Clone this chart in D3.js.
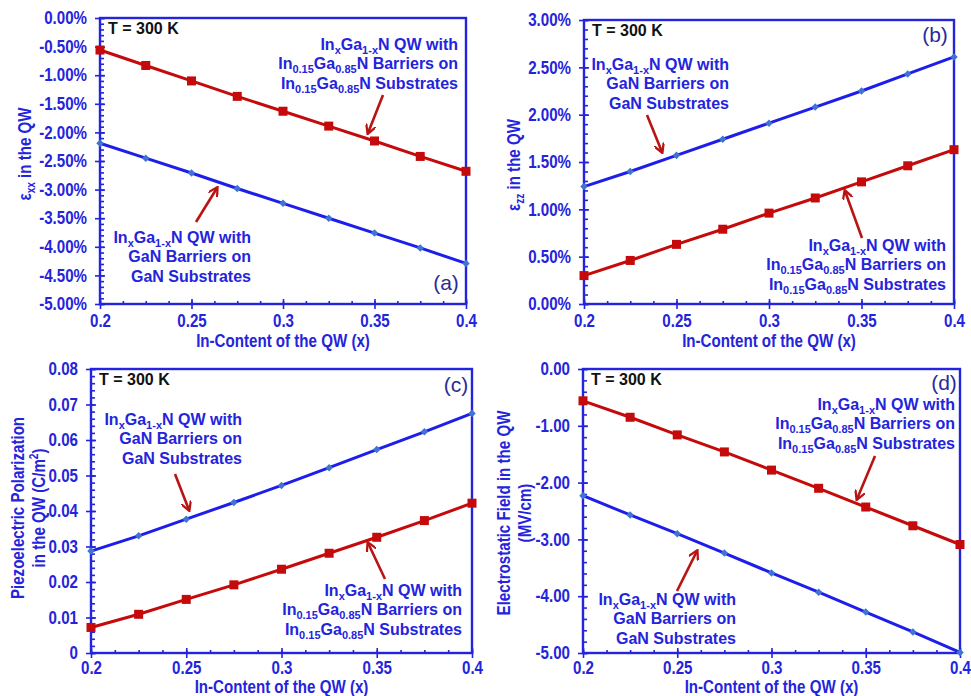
<!DOCTYPE html>
<html>
<head>
<meta charset="utf-8">
<script src="https://cdn.jsdelivr.net/npm/d3@7"></script>
<style>
  html, body { margin: 0; padding: 0; background: #fff; }
  svg { display: block; font-family: "Liberation Sans", Arial, sans-serif; }
</style>
</head>
<body>
<svg id="fig" width="971" height="696"></svg>
<script>
// Indium content of the quantum well
const inContent = [0.2, 0.225, 0.25, 0.275, 0.3, 0.325, 0.35, 0.375, 0.4];

// (a) in-plane strain, percent
const exxGaN   = [-2.19, -2.45, -2.71, -2.98, -3.24, -3.50, -3.76, -4.02, -4.29];
const exxInGaN = [-0.56, -0.83, -1.10, -1.37, -1.63, -1.89, -2.15, -2.42, -2.68];

// (b) out-of-plane strain, percent
const ezzGaN   = [1.24, 1.40, 1.57, 1.74, 1.91, 2.08, 2.25, 2.43, 2.61];
const ezzInGaN = [0.30, 0.46, 0.63, 0.79, 0.96, 1.12, 1.29, 1.46, 1.63];

// (c) piezoelectric polarization, C/m^2
const pzGaN   = [0.0287, 0.0330, 0.0377, 0.0424, 0.0472, 0.0522, 0.0573, 0.0623, 0.0675];
const pzInGaN = [0.0072, 0.0109, 0.0151, 0.0192, 0.0236, 0.0281, 0.0326, 0.0373, 0.0422];

// (d) electrostatic field, MV/cm
const efGaN   = [-2.23, -2.57, -2.90, -3.24, -3.59, -3.93, -4.28, -4.63, -4.99];
const efInGaN = [-0.56, -0.85, -1.16, -1.46, -1.78, -2.10, -2.43, -2.76, -3.09];

// Axis ticks
const xTicks  = [0.2, 0.25, 0.3, 0.35, 0.4];
const xTickLabels = ["0.2", "0.25", "0.3", "0.35", "0.4"];
const yTicksA = [0, -0.5, -1, -1.5, -2, -2.5, -3, -3.5, -4, -4.5, -5];
const yTicksB = [0, 0.5, 1, 1.5, 2, 2.5, 3];
const yTicksC = [0, 0.01, 0.02, 0.03, 0.04, 0.05, 0.06, 0.07, 0.08];
const yTicksD = [0, -1, -2, -3, -4, -5];

const BLUE = "#2424dc";
const LINE_BLUE = "#1e1eea";
const DIAMOND = "#3f74d6";
const RED = "#c40a0a";
const ARROW = "#b81414";

const svg = d3.select("#fig");

const panels = [
  { box: [100, 466, 18, 304], y: [-5, 0], yTicks: yTicksA, yMinor: 0.1,
    fmt: v => v.toFixed(2) + "%", tag: "(a)", tagPos: [446, 290],
    blue: exxGaN, red: exxInGaN, xTitleY: 347, tickLabelY: 327 },
  { box: [584, 954, 20, 304], y: [0, 3], yTicks: yTicksB, yMinor: 0.1,
    fmt: v => v.toFixed(2) + "%", tag: "(b)", tagPos: [935, 42],
    blue: ezzGaN, red: ezzInGaN, xTitleY: 347, tickLabelY: 327 },
  { box: [91, 472, 369, 653], y: [0, 0.08], yTicks: yTicksC, yMinor: 0.002,
    fmt: v => v === 0 ? "0" : v.toFixed(2), tag: "(c)", tagPos: [456, 392],
    blue: pzGaN, red: pzInGaN, xTitleY: 693, tickLabelY: 674 },
  { box: [583, 960, 369, 653], y: [-5, 0], yTicks: yTicksD, yMinor: 0.2,
    fmt: v => v.toFixed(2), tag: "(d)", tagPos: [944, 390],
    blue: efGaN, red: efInGaN, xTitleY: 693, tickLabelY: 674 }
];

const SX = 0.84; // horizontal squeeze of axis lettering

panels.forEach(p => {
  const [x0, x1, y0, y1] = p.box;
  const x = d3.scaleLinear().domain([0.2, 0.4]).range([x0, x1]);
  const y = d3.scaleLinear().domain(p.y).range([y1, y0]);
  const g = svg.append("g");

  // minor ticks (inside the frame)
  const [yLo, yHi] = y.domain();
  const yMinorVals = d3.range(Math.round((yHi - yLo) / p.yMinor) + 1).map(i => yLo + i * p.yMinor);
  g.append("g").attr("transform", `translate(${x0},0)`)
    .call(d3.axisRight(y).tickValues(yMinorVals).tickSize(4).tickFormat(""))
    .call(a => a.select(".domain").remove());
  const xMinorVals = d3.range(17).map(i => 0.2 + i * 0.0125);
  g.append("g").attr("transform", `translate(0,${y1})`)
    .call(d3.axisTop(x).tickValues(xMinorVals).tickSize(3).tickFormat(""))
    .call(a => a.select(".domain").remove());

  // major y ticks and labels
  const ya = g.append("g").attr("transform", `translate(${x0},0)`)
    .call(d3.axisLeft(y).tickValues(p.yTicks).tickSize(5).tickPadding(8).tickFormat(p.fmt));
  ya.select(".domain").remove();
  ya.selectAll(".tick line").attr("x1", 5);
  ya.selectAll(".tick text").each(function() {
    const t = d3.select(this);
    t.attr("x", +t.attr("x") / SX).attr("transform", `scale(${SX},1)`);
  });

  // major x ticks and labels
  const xa = g.append("g").attr("transform", `translate(0,${y1})`)
    .call(d3.axisBottom(x).tickValues(xTicks).tickSize(5).tickPadding(0)
      .tickFormat((d, i) => xTickLabels[i]));
  xa.select(".domain").remove();
  xa.selectAll(".tick line").attr("y1", -5);
  xa.selectAll(".tick text").attr("y", p.tickLabelY - y1).attr("dy", 0)
    .attr("transform", `scale(${SX},1)`);

  g.selectAll(".tick line").attr("stroke", BLUE).attr("stroke-width", 1.6);
  g.selectAll(".tick text").attr("fill", BLUE).attr("font-size", 18)
    .attr("font-weight", "bold").attr("font-family", "'Liberation Sans', Arial, sans-serif");

  // frame
  g.append("rect").attr("x", x0).attr("y", y0).attr("width", x1 - x0).attr("height", y1 - y0)
    .attr("fill", "none").attr("stroke", BLUE).attr("stroke-width", 2.4);

  // series
  const line = d3.line().x((d, i) => x(inContent[i])).y(d => y(d));
  g.append("path").datum(p.red).attr("d", line)
    .attr("fill", "none").attr("stroke", RED).attr("stroke-width", 3);
  g.selectAll(".sq").data(p.red).enter().append("rect")
    .attr("x", (d, i) => x(inContent[i]) - 4.5).attr("y", d => y(d) - 4.5)
    .attr("width", 9).attr("height", 9).attr("fill", RED);
  g.append("path").datum(p.blue).attr("d", line)
    .attr("fill", "none").attr("stroke", LINE_BLUE).attr("stroke-width", 3);
  g.selectAll(".dm").data(p.blue).enter().append("path")
    .attr("d", d3.symbol(d3.symbolDiamond2, 36))
    .attr("transform", (d, i) => `translate(${x(inContent[i])},${y(d)})`)
    .attr("fill", DIAMOND);

  // x-axis title
  svg.append("text").attr("transform", `translate(${(x0 + x1) / 2},${p.xTitleY}) scale(${SX},1)`)
    .attr("text-anchor", "middle").attr("font-size", 18).attr("font-weight", "bold")
    .attr("fill", BLUE).text("In-Content of the QW (x)");

  // temperature note and panel tag
  svg.append("text").attr("x", x0 + 8).attr("y", y0 + 16).attr("font-size", 16)
    .attr("font-weight", "bold").attr("fill", "#111").text("T = 300 K");
  svg.append("text").attr("x", p.tagPos[0]).attr("y", p.tagPos[1]).attr("text-anchor", "middle")
    .attr("font-size", 21).attr("fill", "#2a2a9a").text(p.tag);
});

// Rich text: [string, isSubscript] runs; the vertical shift is carried to the next run
function runs(t, parts, subSize, shift) {
  let pending = 0;
  parts.forEach(([s, sub]) => {
    const ts = t.append("tspan").text(s);
    const want = sub ? shift : 0;
    const dy = want - pending;
    if (dy !== 0) ts.attr("dy", dy);
    if (sub) ts.attr("font-size", subSize);
    pending = want;
  });
}

// y-axis titles
function yTitle(cx, cy, parts) {
  const t = svg.append("text").attr("transform", `translate(${cx},${cy}) rotate(-90) scale(${SX},1)`)
    .attr("text-anchor", "middle").attr("font-size", 18).attr("font-weight", "bold")
    .attr("fill", BLUE);
  runs(t, parts, 12, 4);
}
yTitle(31, 154, [["ε"], ["xx", 1], [" in the QW"]]);
yTitle(520, 165, [["ε"], ["zz", 1], [" in the QW"]]);
yTitle(24, 508, [["Piezoelectric Polarization"]]);
{
  const t = svg.append("text").attr("transform", `translate(45,508) rotate(-90) scale(${SX},1)`)
    .attr("text-anchor", "middle").attr("font-size", 18).attr("font-weight", "bold")
    .attr("fill", BLUE);
  runs(t, [["in the QW (C/m"], ["2", 1], [")"]], 12, -7);
}
yTitle(510, 513, [["Electrostatic Field in the QW"]]);
yTitle(531, 513, [["(MV/cm)"]]);

// series annotations
const labelGaN = [
  [["In"], ["x", 1], ["Ga"], ["1-x", 1], ["N QW with"]],
  [["GaN Barriers on"]],
  [["GaN Substrates"]]
];
const labelInGaN = [
  [["In"], ["x", 1], ["Ga"], ["1-x", 1], ["N QW with"]],
  [["In"], ["0.15", 1], ["Ga"], ["0.85", 1], ["N Barriers on"]],
  [["In"], ["0.15", 1], ["Ga"], ["0.85", 1], ["N Substrates"]]
];
function note(xr, yFirst, lines) {
  lines.forEach((parts, i) => {
    const t = svg.append("text").attr("x", xr).attr("y", yFirst + i * 19.3)
      .attr("text-anchor", "end").attr("font-size", 16).attr("font-weight", "bold")
      .attr("fill", BLUE);
    runs(t, parts, 11, 4);
  });
}
note(458, 50, labelInGaN);
note(251, 243, labelGaN);
note(729, 70, labelGaN);
note(946, 251, labelInGaN);
note(242, 425, labelGaN);
note(462, 596, labelInGaN);
note(955, 410, labelInGaN);
note(736, 605, labelGaN);

// pointer arrows
svg.append("defs").append("marker").attr("id", "head").attr("viewBox", "0 0 10 10")
  .attr("refX", 8).attr("refY", 5).attr("markerWidth", 4).attr("markerHeight", 4)
  .attr("orient", "auto").append("path").attr("d", "M0,0 L9,5 L0,10")
  .attr("fill", "none").attr("stroke", ARROW).attr("stroke-width", 2.2);
const arrows = [
  [383, 95, 368, 133], [196, 222, 217, 188],
  [647, 115, 662, 152], [862, 238, 845, 191],
  [175, 474, 189, 510], [385, 579, 368, 543],
  [875, 456, 857, 499], [677, 591, 697, 551]
];
arrows.forEach(([ax, ay, bx, by]) => {
  svg.append("line").attr("x1", ax).attr("y1", ay).attr("x2", bx).attr("y2", by)
    .attr("stroke", ARROW).attr("stroke-width", 2.6).attr("marker-end", "url(#head)");
});
</script>
</body>
</html>
